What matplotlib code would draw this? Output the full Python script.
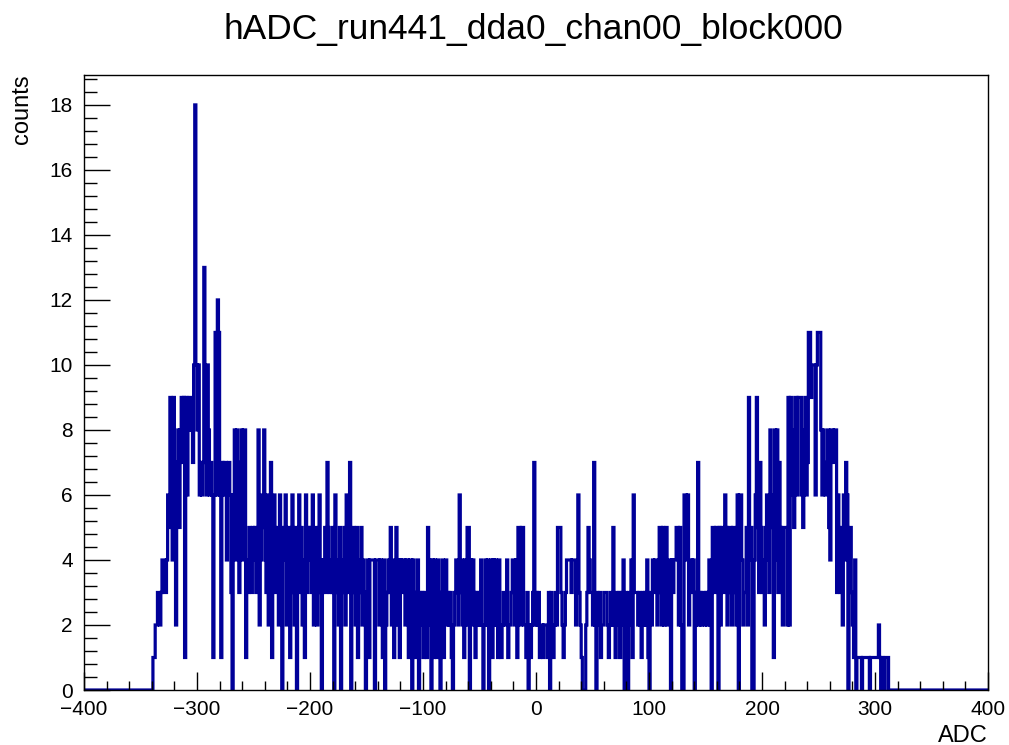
import numpy as np
import matplotlib
matplotlib.use("Agg")
import matplotlib.pyplot as plt
from matplotlib.ticker import MultipleLocator

plt.rcParams["font.family"] = ["Liberation Sans", "DejaVu Sans"]

title = "hADC_run441_dda0_chan00_block000"
x_min, x_max = -400, 400
first_bin = -340

# counts per 1-ADC bin, starting at first_bin
seg_m340 = [0, 1, 1, 2, 2, 3, 3, 2, 3, 4,
            4, 3, 3, 4, 6, 5, 9, 7, 4, 9,
            7, 2, 7, 8, 5, 8, 9, 7, 9, 1,
            9, 6, 8, 9, 9, 8, 7, 10, 18, 10]
seg_m300 = [8, 10, 6, 7, 6, 7, 13, 9, 6, 10,
            8, 6, 7, 6, 1, 6, 11, 6, 12, 11,
            6, 1, 7, 6, 7, 7, 4, 6, 7, 6,
            3, 0, 6, 8, 4, 8, 7, 3, 6, 8,
            4, 8, 8, 1, 4, 3, 5, 4, 3, 5]
seg_m250 = [4, 5, 3, 4, 8, 2, 4, 6, 5, 8,
            4, 3, 6, 2, 5, 7, 1, 4, 6, 3,
            5, 4, 2, 6, 3, 0, 5, 4, 6, 2,
            3, 5, 1, 4, 6, 3, 2, 5, 0, 4,
            6, 3, 5, 2, 4, 1, 6, 3, 5, 4]
seg_m200 = [5, 3, 6, 2, 4, 5, 2, 3, 6, 4,
            0, 3, 4, 5, 3, 7, 5, 3, 4, 3,
            5, 0, 6, 4, 3, 2, 5, 0, 4, 3,
            5, 2, 6, 3, 4, 7, 0, 4, 5, 3,
            2, 5, 1, 4, 3, 5, 2, 4, 3, 0]
seg_m150 = [3, 4, 1, 4, 4, 4, 4, 0, 4, 4,
            4, 2, 4, 3, 1, 4, 0, 2, 3, 4,
            3, 5, 2, 4, 1, 3, 5, 2, 4, 1,
            4, 3, 4, 4, 2, 4, 4, 1, 4, 4,
            0, 4, 3, 1, 2, 4, 0, 3, 2, 3]
seg_m100 = [1, 3, 2, 1, 5, 4, 2, 0, 4, 1,
            4, 2, 1, 4, 3, 0, 2, 4, 1, 3,
            4, 2, 3, 2, 3, 1, 0, 2, 3, 4,
            3, 2, 6, 3, 4, 2, 1, 4, 2, 5,
            5, 0, 4, 2, 4, 3, 1, 3, 2, 3]
seg_m50 = [2, 4, 2, 0, 2, 4, 2, 4, 0, 2,
           4, 1, 4, 2, 4, 2, 1, 4, 2, 1,
           2, 3, 2, 2, 4, 1, 2, 2, 3, 4,
           4, 2, 4, 1, 5, 5, 2, 5, 5, 2,
           2, 1, 3, 0, 2, 1, 2, 3, 7, 2]
seg_0 = [3, 2, 3, 1, 2, 2, 1, 2, 2, 2,
         1, 3, 0, 3, 2, 1, 2, 3, 2, 5,
         5, 5, 3, 2, 1, 2, 3, 4, 4, 4,
         4, 3, 4, 4, 4, 2, 3, 6, 3, 2,
         1, 0, 0, 0, 2, 3, 5, 4, 3, 3]
seg_50 = [2, 7, 2, 0, 3, 2, 3, 1, 2, 2,
          3, 3, 3, 2, 1, 2, 3, 2, 5, 2,
          1, 3, 2, 3, 1, 3, 2, 4, 0, 3,
          2, 0, 3, 2, 4, 1, 6, 3, 3, 3,
          2, 3, 2, 1, 3, 2, 3, 2, 4, 1]
seg_100 = [0, 3, 2, 4, 3, 4, 4, 2, 3, 5,
           5, 2, 5, 2, 3, 5, 2, 4, 4, 0,
           4, 3, 4, 4, 5, 5, 2, 5, 2, 0,
           0, 6, 6, 4, 6, 2, 4, 4, 3, 4,
           0, 2, 3, 7, 2, 3, 2, 3, 3, 2]
seg_150 = [3, 2, 3, 4, 2, 0, 5, 5, 3, 5,
           5, 0, 5, 2, 5, 5, 3, 6, 5, 2,
           3, 5, 5, 2, 5, 5, 3, 2, 6, 0,
           6, 6, 4, 2, 3, 3, 5, 2, 9, 4,
           5, 0, 0, 4, 6, 9, 5, 3, 7, 5]
seg_200 = [3, 4, 2, 5, 6, 4, 3, 8, 6, 5,
           1, 8, 4, 8, 3, 7, 5, 3, 2, 5,
           5, 5, 2, 9, 2, 9, 8, 6, 5, 9,
           9, 6, 9, 9, 9, 6, 5, 8, 9, 6,
           7, 11, 11, 9, 10, 10, 10, 6, 10, 11]
seg_250 = [11, 11, 8, 6, 8, 7, 6, 6, 8, 5,
           4, 8, 8, 7, 8, 8, 3, 6, 4, 3,
           5, 2, 6, 4, 7, 6, 0, 4, 5, 3,
           2, 1, 4, 0, 1, 1, 1, 1, 0, 1,
           1, 1, 1, 1, 1, 0, 1, 1, 1, 1]
seg_300 = [1, 1, 1, 2, 1, 0, 1, 0, 0, 1, 1, 1, 0, 0, 0]

segments = [seg_m340, seg_m300, seg_m250, seg_m200, seg_m150, seg_m100,
            seg_m50, seg_0, seg_50, seg_100, seg_150, seg_200, seg_250, seg_300]

edges = np.arange(x_min, x_max + 1)
counts = np.zeros(len(edges) - 1)
filled = np.concatenate(segments)
start = first_bin - x_min
counts[start:start + len(filled)] = filled

fig = plt.figure(figsize=(10.09, 7.45), dpi=100)
ax = fig.add_axes([84 / 1009, 1 - 690 / 745, 904 / 1009, 615 / 745])

ax.stairs(counts, edges, color="#000099", linewidth=2.3)

ax.set_xlim(x_min, x_max)
ax.set_ylim(0, 18.92)
ax.xaxis.set_major_locator(MultipleLocator(100))
ax.xaxis.set_minor_locator(MultipleLocator(20))
ax.yaxis.set_major_locator(MultipleLocator(2))
ax.yaxis.set_minor_locator(MultipleLocator(0.4))

ax.tick_params(axis="both", which="both", direction="in", top=False, right=False,
               labelsize=15, width=1)
ax.tick_params(axis="x", which="major", length=13, pad=7)
ax.tick_params(axis="x", which="minor", length=6.5)
ax.tick_params(axis="y", which="major", length=19, pad=8)
ax.tick_params(axis="y", which="minor", length=9.5)
for s in ax.spines.values():
    s.set_linewidth(1)

fig.text(533 / 1009, 1 - 29 / 745, title, ha="center", va="center", fontsize=25.5)
fig.text(22 / 1009, 1 - 74 / 745, "counts", rotation=90, ha="center", va="top", fontsize=17)
fig.text(988 / 1009, 1 - 736 / 745, "ADC", ha="right", va="center", fontsize=17)

fig.savefig("out.png", dpi=100)
